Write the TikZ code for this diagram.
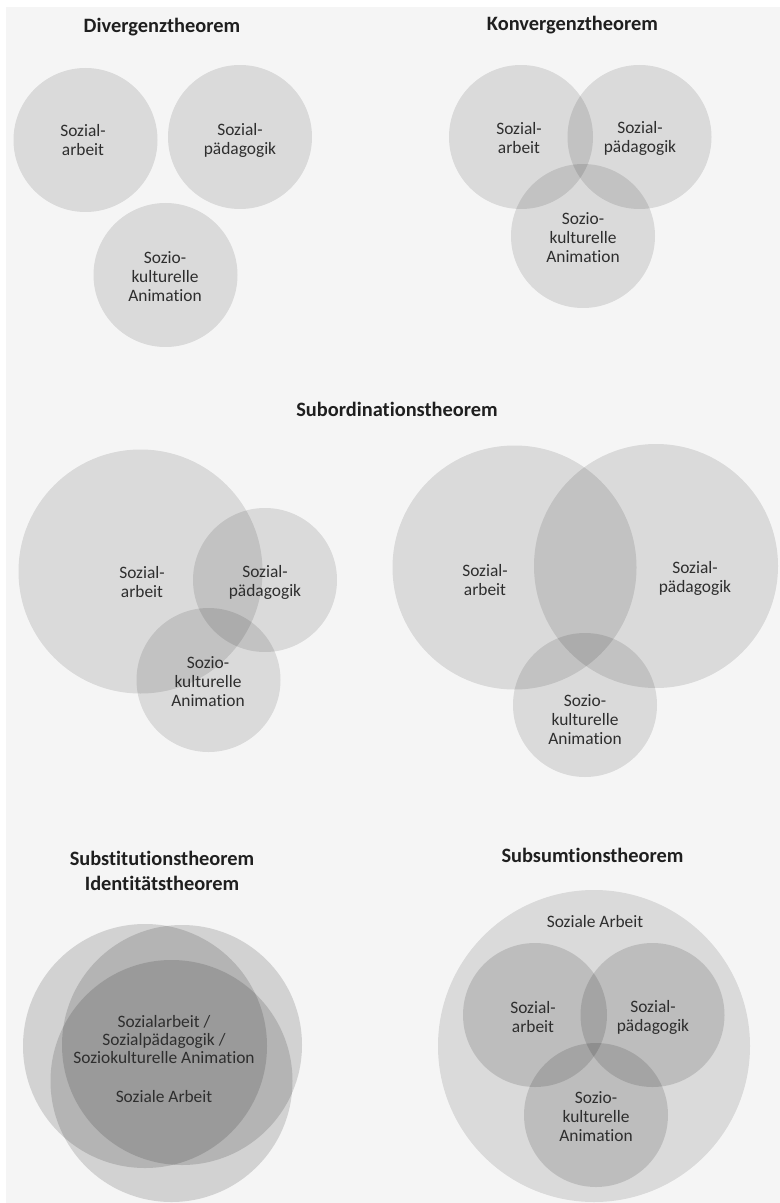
\documentclass[tikz,border=0pt]{standalone}
\usepackage{fontspec}
\setmainfont{Carlito}[Ligatures={NoCommon,NoContextual}]

\newcommand{\titelfont}{\fontsize{10.2}{12.5}\selectfont\bfseries}
\newcommand{\lblfont}{\fontsize{8.7}{9.5}\selectfont}

\begin{document}
\begin{tikzpicture}[x=0.5pt, y=-0.5pt]
	\tikzstyle{every node}=[align=center, inner sep=0pt]
	\tikzstyle{kreis}=[circle, fill=black, fill opacity=0.11, minimum size=72pt]
	\tikzstyle{gross}=[kreis, minimum size=122pt]
	\tikzstyle{dunkel}=[kreis, fill opacity=0.14]
	\tikzstyle{titel}=[font=\titelfont, text=black!88]
	\tikzstyle{lbl}=[font=\lblfont, text=black!82]

	\useasboundingbox (0,0) rectangle (780,1203);
	\fill[white] (0,0) rectangle (780,1203);
	\fill[black!4] (6,7) rectangle (780,1203);

	% Divergenztheorem
	\node[titel] (tdiv) at (162,27) {Divergenztheorem};
	\node[kreis] (dsa) at (85.5,140) {};
	\node[kreis] (dsp) at (240,137) {};
	\node[kreis] (dsk) at (165.5,275) {};
	\node[lbl] (ldsa) at (83,140)  {Sozial-\\arbeit};
	\node[lbl] (ldsp) at (240,140) {Sozial-\\pädagogik};
	\node[lbl] (ldsk) at (165,277) {Sozio-\\kulturelle\\Animation};

	% Konvergenztheorem
	\node[titel] (tkon) at (572.5,25) {Konvergenztheorem};
	\node[kreis] (ksa) at (521,137) {};
	\node[kreis] (ksp) at (639.5,137) {};
	\node[kreis] (ksk) at (583,236) {};
	\node[lbl] (lksa) at (519,138) {Sozial-\\arbeit};
	\node[lbl] (lksp) at (640,138) {Sozial-\\pädagogik};
	\node[lbl] (lksk) at (583,238) {Sozio-\\kulturelle\\Animation};

	% Subordinationstheorem
	\node[titel] (tsub) at (397,409) {Subordinationstheorem};

	\node[gross] (u1sa) at (140.5,571.5) {};
	\node[kreis] (u1sp) at (265,580) {};
	\node[kreis] (u1sk) at (208.5,680) {};
	\node[lbl] (lu1sa) at (142,582) {Sozial-\\arbeit};
	\node[lbl] (lu1sp) at (265,582) {Sozial-\\pädagogik};
	\node[lbl] (lu1sk) at (208,682) {Sozio-\\kulturelle\\Animation};

	\node[gross] (u2sa) at (514.5,567.5) {};
	\node[gross] (u2sp) at (656,566) {};
	\node[kreis] (u2sk) at (585,705) {};
	\node[lbl] (lu2sa) at (485,580) {Sozial-\\arbeit};
	\node[lbl] (lu2sp) at (695,578) {Sozial-\\pädagogik};
	\node[lbl] (lu2sk) at (585,720) {Sozio-\\kulturelle\\Animation};

	% Substitutionstheorem / Identitaetstheorem
	\node[titel] (tsbt) at (162,871) {Substitutionstheorem\\Identitätstheorem};
	\node[dunkel, minimum size=122pt] (ssa) at (145,1046) {};
	\node[dunkel, minimum size=120pt] (ssp) at (182,1045) {};
	\node[dunkel, minimum size=121pt] (ssk) at (171.5,1081) {};
	\node[lbl, font=\fontsize{8.7}{9}\selectfont] (lsalle) at (164,1040)
		{Sozialarbeit /\\Sozialpädagogik /\\Soziokulturelle Animation};
	\node[lbl] (lssa) at (164,1097) {Soziale Arbeit};

	% Subsumtionstheorem
	\node[titel] (tsum) at (592.5,855) {Subsumtionstheorem};
	\node[kreis, minimum size=156pt] (msa) at (594,1046) {};
	\node[kreis, fill opacity=0.13] (mza) at (535,1015) {};
	\node[kreis, fill opacity=0.13] (mzp) at (652.5,1015) {};
	\node[kreis, fill opacity=0.13] (mzk) at (596,1115) {};
	\node[lbl] (lmsa) at (595,922)  {Soziale Arbeit};
	\node[lbl] (lmza) at (533,1017) {Sozial-\\arbeit};
	\node[lbl] (lmzp) at (653,1017) {Sozial-\\pädagogik};
	\node[lbl] (lmzk) at (596,1117) {Sozio-\\kulturelle\\Animation};
\end{tikzpicture}
\end{document}
